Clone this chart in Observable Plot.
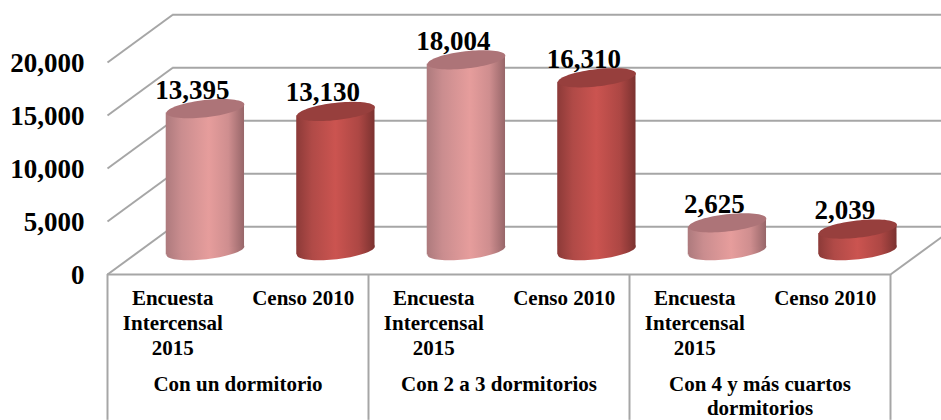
<!DOCTYPE html>
<html lang="es">
<head>
<meta charset="utf-8">
<style>html,body{margin:0;padding:0;background:#fff;overflow:hidden}</style>
<script src="https://cdn.jsdelivr.net/npm/d3@7"></script>
<script src="https://cdn.jsdelivr.net/npm/@observablehq/plot@0.6"></script>
</head>
<body>
<div id="chart"></div>
<script>
const groups = ["Con un dormitorio", "Con 2 a 3 dormitorios", "Con 4 y más cuartos\ndormitorios"];
const seriesLabels = ["Encuesta\nIntercensal\n2015", "Censo 2010"];
const encuesta = [13395, 18004, 2625];
const censo = [13130, 16310, 2039];
const yTicks = [0, 5000, 10000, 15000, 20000];
const separators = [0, 2, 4, 6];

// Oblique floor: a full depth of 1 moves half a column right and 4500 units up.
const depthX = 0.5, depthY = 4500, midDepth = 0.5;
const xMax = 834 / 130.5;
const halfWidth = 0.3, tiltValue = 415;
const bottomValue = -13760;
const projX = (col, d) => col + d * depthX;
const projY = (v, d) => v + d * depthY;

const cylinders = groups.flatMap((g, i) => [encuesta[i], censo[i]].map((value, s) => ({
  id: `${i}-${s}`, col: i * 2 + s + 0.5, value, series: s
})));
const sides = cylinders.flatMap(c => [-1, 1].map(side => ({
  id: c.id,
  x: projX(c.col, midDepth) + side * halfWidth,
  y1: projY(side * tiltValue, midDepth),
  y2: projY(c.value + side * tiltValue, midDepth),
  body: `url(#body${c.series})`
})));
const columnLabels = cylinders.map(c => ({col: c.col, text: seriesLabels[c.series]}));
const groupLabels = groups.map((text, i) => ({col: i * 2 + 1, text}));

const wallLines = yTicks.map(v => ({x1: projX(0, 1), x2: xMax, y: projY(v, 1)}));
const sideLines = yTicks.map(v => ({x1: 0, y1: v, x2: projX(0, 1), y2: projY(v, 1)}));
const rightDepth = (xMax - 6) / depthX;

const tilt = 6.5 * Math.PI / 180;
const ellipse = {
  draw(ctx) {
    const rx = 39.2, ry = 8.6, n = 72;
    for (let k = 0; k < n; k++) {
      const a = 2 * Math.PI * k / n;
      const ex = rx * Math.cos(a), ey = ry * Math.sin(a);
      const X = ex * Math.cos(tilt) + ey * Math.sin(tilt);
      const Y = -ex * Math.sin(tilt) + ey * Math.cos(tilt);
      k ? ctx.lineTo(X, Y) : ctx.moveTo(X, Y);
    }
    ctx.closePath();
  }
};

const defs = () => {
  const g = document.createElementNS("http://www.w3.org/2000/svg", "g");
  g.innerHTML = `<defs>
    <linearGradient id="body0" x1="0" x2="1" y1="0" y2="0">
      <stop offset="0" stop-color="#ad7a7d"/><stop offset=".2" stop-color="#ca8d8f"/>
      <stop offset=".55" stop-color="#e69d9c"/><stop offset=".8" stop-color="#cf8e8f"/>
      <stop offset="1" stop-color="#976669"/></linearGradient>
    <linearGradient id="body1" x1="0" x2="1" y1="0" y2="0">
      <stop offset="0" stop-color="#8c3a38"/><stop offset=".2" stop-color="#b04a47"/>
      <stop offset=".5" stop-color="#cb5450"/><stop offset=".8" stop-color="#ad4744"/>
      <stop offset="1" stop-color="#7b3230"/></linearGradient>
  </defs>`;
  return g;
};

const font = {fontFamily: "Liberation Serif", fontWeight: "bold", fill: "#000"};
const gray = {stroke: "#a6a6a6", strokeWidth: 2};

const chart = Plot.plot({
  width: 941, height: 420,
  marginLeft: 107, marginRight: 0, marginTop: 62, marginBottom: 146,
  style: {background: "#fff", fontFamily: "Liberation Serif"},
  x: {domain: [0, xMax], axis: null},
  y: {domain: [0, 20000], axis: null},
  color: {type: "identity"},
  marks: [
    defs,
    Plot.ruleY(wallLines, {x1: "x1", x2: "x2", y: "y", ...gray}),
    Plot.link(sideLines, {x1: "x1", y1: "y1", x2: "x2", y2: "y2", ...gray}),
    Plot.link([{x1: 6, x2: projX(6, rightDepth), y2: projY(0, rightDepth)}], {x1: "x1", y1: () => 0, x2: "x2", y2: "y2", ...gray}),
    Plot.ruleY([0], {x1: 0, x2: 6, ...gray}),
    Plot.ruleX(separators, {y1: 0, y2: bottomValue, ...gray}),
    Plot.dot(cylinders, {x: c => projX(c.col, midDepth), y: () => projY(0, midDepth), r: 10, symbol: ellipse, fill: c => `url(#body${c.series})`}),
    Plot.area(sides, {x1: "x", y1: "y1", y2: "y2", z: "id", fill: "body"}),
    Plot.dot(cylinders, {x: c => projX(c.col, midDepth), y: c => projY(c.value, midDepth), r: 10, symbol: ellipse, fill: c => c.series ? "#973f3d" : "#ad7478"}),
    Plot.text(cylinders, {x: c => projX(c.col, midDepth), y: c => projY(c.value, midDepth), text: c => d3.format(",")(c.value), dx: -13, dy: -10, lineAnchor: "bottom", fontSize: 27, ...font}),
    Plot.axisY(yTicks, {tickSize: 0, tickPadding: 23, tickFormat: d3.format(","), label: null, fontSize: 27, dy: 1, ...font}),
    Plot.text(columnLabels, {x: "col", y: () => 0, text: "text", lineAnchor: "top", dy: 13, lineHeight: 1.19, fontSize: 21, ...font}),
    Plot.text(groupLabels, {x: "col", y: () => 0, text: "text", lineAnchor: "top", dy: 100, lineHeight: 1.12, fontSize: 21, ...font})
  ]
});
document.getElementById("chart").appendChild(chart);
</script>
</body>
</html>
